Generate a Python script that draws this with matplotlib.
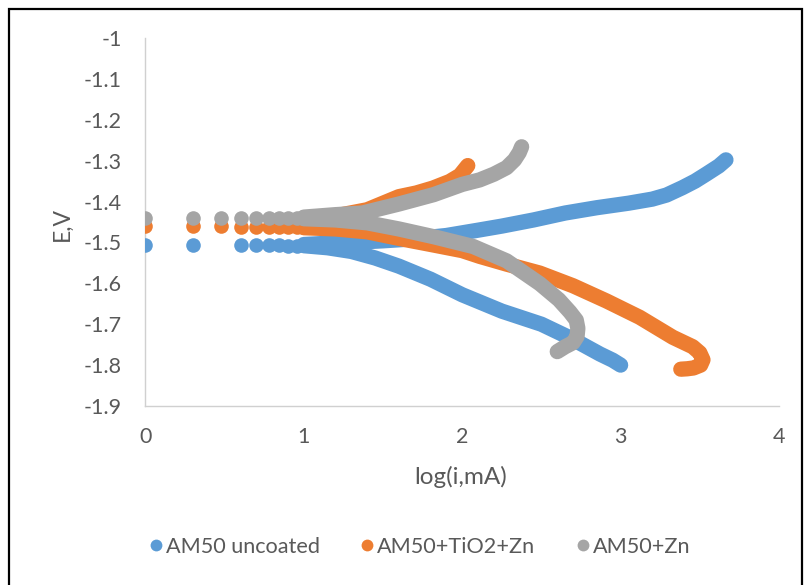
import matplotlib
matplotlib.use("Agg")
import matplotlib.pyplot as plt
from matplotlib.lines import Line2D
from matplotlib.patches import Rectangle

# ---------------- data ----------------
series_names = ["AM50 uncoated", "AM50+TiO2+Zn", "AM50+Zn"]

# AM50 uncoated
blue_sparse_x = [0, 0.301, 0.602, 0.699, 0.778, 0.845, 0.903, 0.954]
blue_sparse_e = [-1.506, -1.506, -1.507, -1.507, -1.507, -1.507, -1.508, -1.508]
blue_cath_x = [1.0, 1.15, 1.3, 1.45, 1.6, 1.8, 2.0, 2.25, 2.5, 2.7, 2.87, 2.95, 3.0]
blue_cath_e = [-1.508, -1.513, -1.522, -1.538, -1.558, -1.59, -1.628, -1.668, -1.70,
               -1.737, -1.773, -1.788, -1.80]
blue_anod_x = [1.0, 1.15, 1.3, 1.5, 1.7, 1.9, 2.1, 2.25, 2.45, 2.65, 2.85, 3.05, 3.2,
               3.29, 3.39, 3.47, 3.54, 3.62, 3.665]
blue_anod_e = [-1.505, -1.502, -1.50, -1.496, -1.491, -1.483, -1.47, -1.46, -1.445, -1.428,
               -1.415, -1.404, -1.394, -1.384, -1.366, -1.35, -1.333, -1.313, -1.298]

# AM50+TiO2+Zn
orange_sparse_x = [0, 0.301, 0.477, 0.602, 0.699, 0.778, 0.845, 0.903, 0.954]
orange_sparse_e = [-1.459, -1.460, -1.460, -1.461, -1.461, -1.462, -1.462, -1.463, -1.463]
orange_cath_x = [1.0, 1.2, 1.4, 1.6, 1.815, 2.0, 2.11, 2.28, 2.49, 2.7, 2.91, 3.12, 3.33,
                 3.455, 3.5, 3.52, 3.505, 3.46, 3.42, 3.38]
orange_cath_e = [-1.464, -1.467, -1.474, -1.49, -1.506, -1.52, -1.534, -1.553, -1.575,
                 -1.606, -1.643, -1.683, -1.732, -1.755, -1.77, -1.787, -1.80, -1.807,
                 -1.809, -1.81]
orange_anod_x = [1.0, 1.2, 1.4, 1.6, 1.71, 1.815, 1.92, 1.985, 2.035]
orange_anod_e = [-1.443, -1.435, -1.42, -1.388, -1.379, -1.367, -1.351, -1.336, -1.312]

# AM50+Zn
gray_sparse_x = [0, 0.301, 0.477, 0.602, 0.699, 0.778, 0.845, 0.903, 0.954]
gray_sparse_e = [-1.441, -1.441, -1.441, -1.441, -1.441, -1.441, -1.441, -1.441, -1.441]
gray_cath_x = [1.0, 1.2, 1.4, 1.6, 1.82, 2.07, 2.28, 2.49, 2.61, 2.68, 2.72, 2.73, 2.725,
               2.70, 2.65, 2.60]
gray_cath_e = [-1.442, -1.445, -1.452, -1.467, -1.486, -1.51, -1.545, -1.601, -1.64, -1.67,
               -1.69, -1.71, -1.73, -1.745, -1.755, -1.767]
gray_anod_x = [1.0, 1.2, 1.37, 1.6, 1.82, 2.0, 2.11, 2.2, 2.28, 2.33, 2.36, 2.375]
gray_anod_e = [-1.438, -1.432, -1.428, -1.406, -1.383, -1.358, -1.347, -1.333, -1.317,
               -1.298, -1.28, -1.266]

x_ticks = [0, 1, 2, 3, 4]
x_tick_labels = ["0", "1", "2", "3", "4"]
y_ticks = [-1.9, -1.8, -1.7, -1.6, -1.5, -1.4, -1.3, -1.2, -1.1, -1.0]
y_tick_labels = ["-1.9", "-1.8", "-1.7", "-1.6", "-1.5", "-1.4", "-1.3", "-1.2", "-1.1", "-1"]

# ---------------- style ----------------
plt.rcParams['font.family'] = ['Lato', 'DejaVu Sans']
TXT = '#595959'
AXC = '#d0d0d0'
colors = ['#5B9BD5', '#ED7D31', '#A5A5A5']
MS = 10.5   # marker size (pt)
LW = 11.0   # band width (pt)

fig = plt.figure(figsize=(8.05, 5.85), dpi=100)
ax = fig.add_axes([0.1807, 0.306, 0.787, 0.629])

groups = [
    (blue_sparse_x, blue_sparse_e, blue_cath_x, blue_cath_e, blue_anod_x, blue_anod_e),
    (orange_sparse_x, orange_sparse_e, orange_cath_x, orange_cath_e, orange_anod_x, orange_anod_e),
    (gray_sparse_x, gray_sparse_e, gray_cath_x, gray_cath_e, gray_anod_x, gray_anod_e),
]
for i, (sx, se, cx, ce, axx, ae) in enumerate(groups):
    z = 2 + i
    c = colors[i]
    ax.plot(sx, se, linestyle='none', marker='o', ms=MS, mfc=c, mec=c, mew=0, zorder=z)
    for xx, ee in ((cx, ce), (axx, ae)):
        ax.plot(xx, ee, color=c, lw=LW, solid_capstyle='round', solid_joinstyle='round',
                zorder=z)

ax.set_xlim(0, 4)
ax.set_ylim(-1.9, -1.0)
ax.set_xticks(x_ticks)
ax.set_xticklabels(x_tick_labels)
ax.set_yticks(y_ticks)
ax.set_yticklabels(y_tick_labels)
ax.tick_params(length=0, labelsize=15.5, labelcolor=TXT)
ax.tick_params(axis='y', pad=17)
ax.tick_params(axis='x', pad=15)
for s in ['top', 'right']:
    ax.spines[s].set_visible(False)
for s in ['left', 'bottom']:
    ax.spines[s].set_color(AXC)
    ax.spines[s].set_linewidth(1.0)
    ax.spines[s].set_zorder(1)

fig.text(461 / 805, 1 - 477 / 585, "log(i,mA)", ha='center', va='center', fontsize=17.5,
         color=TXT)
fig.text(62 / 805, 1 - 224 / 585, "E,V", ha='center', va='center', rotation=90,
         fontsize=16.5, color=TXT)

handles = [Line2D([], [], linestyle='none', marker='o', ms=8.5, mfc=c, mec=c, mew=0)
           for c in colors]
fig.legend(handles, series_names, loc='center', bbox_to_anchor=(0.522, 1 - 547 / 585),
           ncol=3, frameon=False, fontsize=15.6, labelcolor=TXT, handlelength=0.5,
           handletextpad=0.2, columnspacing=1.95, borderaxespad=0)

fig.patches.append(Rectangle((9 / 805, -0.05), (802 - 9) / 805, 1.05 - 9 / 585,
                             transform=fig.transFigure, fill=False, edgecolor='black',
                             linewidth=1.6))

fig.savefig("out.png", dpi=100)
